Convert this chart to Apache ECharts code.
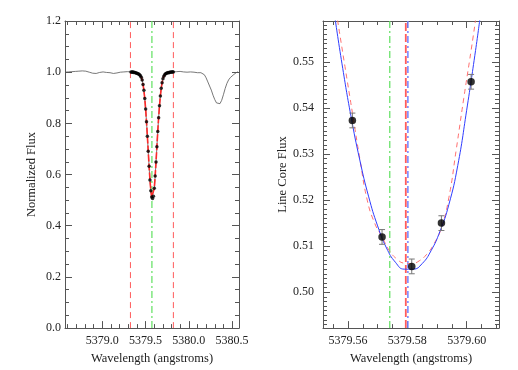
<!DOCTYPE html>
<html><head><meta charset="utf-8">
<script src="https://cdn.jsdelivr.net/npm/echarts@6/dist/echarts.min.js"></script>
<style>html,body{margin:0;padding:0;background:#fff}#c{width:518px;height:370px}</style>
</head><body><div id="c"></div>
<script>
// ---------- Left panel: spectrum ----------
const contLeftW = [5378.57,5378.59,5378.61,5378.63,5378.65,5378.67,5378.69,5378.71,5378.73,5378.75,5378.77,5378.79,5378.81,5378.83,5378.85,5378.87,5378.89,5378.91,5378.93,5378.95,5378.97,5378.99,5379.01,5379.03,5379.05,5379.07,5379.09,5379.11,5379.13,5379.15,5379.17,5379.19,5379.21,5379.23,5379.25,5379.27,5379.29,5379.31];
const contLeftF = [1.000,1.002,1.001,1.003,1.002,1.004,1.003,1.005,1.004,1.006,1.005,1.006,1.004,1.002,1.000,0.998,0.996,0.997,0.995,0.997,0.999,1.000,1.001,1.000,0.999,1.001,0.998,0.996,0.995,0.994,0.997,0.999,1.000,0.999,1.001,1.000,1.002,1.001];
const coreW = [5379.3315,5379.3415,5379.3515,5379.3615,5379.3715,5379.3815,5379.3915,5379.4015,5379.4115,5379.4215,5379.4315,5379.4415,5379.4515,5379.4615,5379.4715,5379.4815,5379.4915,5379.5015,5379.5115,5379.5215,5379.5315,5379.5415,5379.5515,5379.5615,5379.5715,5379.5815,5379.5915,5379.6015,5379.6115,5379.6215,5379.6315,5379.6415,5379.6515,5379.6615,5379.6715,5379.6815,5379.6915,5379.7015,5379.7115,5379.7215,5379.7315,5379.7415,5379.7515,5379.7615,5379.7715,5379.7815,5379.7915,5379.8015,5379.8115,5379.8215];
const coreF = [1.001,1.000,1.002,0.999,1.000,0.998,0.997,0.996,0.994,0.993,0.990,0.986,0.980,0.969,0.952,0.929,0.897,0.856,0.806,0.750,0.691,0.632,0.579,0.537,0.512,0.506,0.515,0.546,0.594,0.649,0.709,0.768,0.822,0.869,0.907,0.937,0.959,0.974,0.984,0.990,0.994,0.996,0.997,0.999,0.998,1.000,1.001,1.000,1.002,1.001];
const contRightW = [5379.84,5379.86,5379.88,5379.90,5379.92,5379.94,5379.96,5379.98,5380.00,5380.02,5380.04,5380.06,5380.08,5380.10,5380.12,5380.14,5380.16,5380.18,5380.20,5380.22,5380.24,5380.26,5380.28,5380.30,5380.32,5380.34,5380.36,5380.38,5380.40,5380.42,5380.44,5380.46,5380.48,5380.50,5380.52,5380.54,5380.56,5380.58];
const contRightF = [1.000,1.002,1.001,1.003,1.002,1.001,1.002,1.000,1.001,1.001,1.000,1.000,1.000,0.998,0.999,0.998,0.997,0.990,0.978,0.962,0.946,0.930,0.910,0.893,0.880,0.874,0.877,0.890,0.912,0.936,0.956,0.970,0.979,0.985,0.991,0.998,1.001,0.998];
const leftWindowLines = [5379.326, 5379.822];
const leftCenterLine = [5379.574];

// ---------- Right panel: line core ----------
const ptsW = [5379.5615,5379.5715,5379.5815,5379.5915,5379.6015];
const ptsF = [0.5373,0.5120,0.5056,0.5150,0.5457];
const ptsErr = [0.0016,0.0016,0.0016,0.0016,0.0016];
const blueW = [5379.5557,5379.5580,5379.5610,5379.5640,5379.5670,5379.5700,5379.5730,5379.5760,5379.5790,5379.5820,5379.5850,5379.5880,5379.5910,5379.5940,5379.5970,5379.6000,5379.6030,5379.6045];
const blueF = [0.5593,0.5496,0.5383,0.5287,0.5207,0.5144,0.5096,0.5065,0.5050,0.5050,0.5062,0.5090,0.5132,0.5190,0.5275,0.5395,0.5525,0.5595];
const redW = [5379.5565,5379.5590,5379.5615,5379.5640,5379.5665,5379.5690,5379.5715,5379.5740,5379.5765,5379.5790,5379.5815,5379.5840,5379.5865,5379.5890,5379.5915,5379.5940,5379.5965,5379.5990,5379.6015,5379.6030];
const redF = [0.5591,0.5490,0.5390,0.5290,0.5200,0.5150,0.5120,0.5090,0.5072,0.5063,0.5062,0.5068,0.5082,0.5105,0.5140,0.5205,0.5310,0.5420,0.5525,0.5591];
const greenLineR = [5379.5741];
const redLineR = [5379.5795];
const blueLineR = [5379.5802];

// ---------- Axes ----------
const leftXMin = 5378.57, leftXMax = 5380.58, leftYMin = 0, leftYMax = 1.2;
const rightXMin = 5379.5516, rightXMax = 5379.6109, rightYMin = 0.4922, rightYMax = 0.5589;
const leftXMajor = [5379.0, 5379.5, 5380.0, 5380.5];
const leftYMajor = [0.0, 0.2, 0.4, 0.6, 0.8, 1.0, 1.2];
const rightXMajor = [5379.56, 5379.58, 5379.60];
const rightYMajor = [0.50, 0.51, 0.52, 0.53, 0.54, 0.55];

function steps(a, b, s, dec) {
  const out = []; const n = Math.round((b - a) / s);
  for (let i = 0; i <= n; i++) out.push(+(a + i * s).toFixed(dec));
  return out;
}
function minorOf(all, major) { return all.filter(v => !major.some(m => Math.abs(m - v) < 1e-9)); }
const leftXMinor = minorOf(steps(5378.6, 5380.5, 0.1, 1), leftXMajor);
const leftYMinor = minorOf(steps(0.05, 1.15, 0.05, 2), leftYMajor);
const rightXMinor = minorOf(steps(5379.555, 5379.610, 0.005, 3), rightXMajor);
const rightYMinor = minorOf(steps(0.493, 0.558, 0.001, 3), rightYMajor);

const FONT = 'Liberation Serif';
const AX = '#555';
function axes(dim, g, min, max, major, minor, dec, name, nameGap, labelMargin) {
  const isX = dim === 'x';
  const p1 = isX ? 'bottom' : 'left', p2 = isX ? 'top' : 'right';
  const base = { type: 'value', gridIndex: g, min: min, max: max, splitLine: { show: false }, scale: true };
  const mk = (pos, vals, len, line, labels) => Object.assign({}, base, {
    position: pos,
    axisLine: { show: line, onZero: false, lineStyle: { color: AX, width: 1 } },
    axisTick: { show: true, inside: true, length: len, customValues: vals, lineStyle: { color: AX, width: 1 } },
    axisLabel: labels ? { show: true, customValues: major, formatter: v => (+v).toFixed(dec), fontFamily: FONT, fontSize: 12, color: '#222', margin: labelMargin } : { show: false },
    name: labels ? name : '',
    nameLocation: 'middle', nameGap: nameGap,
    nameTextStyle: { fontFamily: FONT, fontSize: 12.5, color: '#222' }
  });
  return [mk(p1, major, 7, true, true), mk(p1, minor, 4, false, false), mk(p2, major, 7, true, false), mk(p2, minor, 4, false, false)];
}

const xAxes = [].concat(
  axes('x', 0, leftXMin, leftXMax, leftXMajor, leftXMinor, 1, 'Wavelength (angstroms)', 19, 7),
  axes('x', 1, rightXMin, rightXMax, rightXMajor, rightXMinor, 2, 'Wavelength (angstroms)', 19, 7)
);
const yAxes = [].concat(
  axes('y', 0, leftYMin, leftYMax, leftYMajor, leftYMinor, 1, 'Normalized Flux', 27, 4),
  axes('y', 1, rightYMin, rightYMax, rightYMajor, rightYMinor, 2, 'Line Core Flux', 31, 9)
);

const zip = (a, b) => a.map((v, i) => [v, b[i]]);
function vline(x, y0, y1, g, color, type, width, z) {
  return { type: 'line', xAxisIndex: g * 4, yAxisIndex: g * 4, data: [[x, y0], [x, y1]], symbol: 'none', silent: true, z: z,
    lineStyle: { color: color, type: type, width: width }, animation: false };
}
const RED = '#ff5c5c', GREEN = '#5ee05e', BLUE = '#2f3cff', LBLUE = '#7282ff';
const DASH = [6, 4], DASHDOT = [7, 3, 2, 3];

const spectrum = zip(contLeftW, contLeftF).concat(zip(coreW, coreF), zip(contRightW, contRightF));

const series = [
  { type: 'line', xAxisIndex: 0, yAxisIndex: 0, data: spectrum, symbol: 'none', lineStyle: { color: '#555', width: 0.8 }, z: 2, animation: false },
  vline(leftWindowLines[0], leftYMin, leftYMax, 0, RED, DASH, 1, 3),
  vline(leftWindowLines[1], leftYMin, leftYMax, 0, RED, DASH, 1, 3),
  vline(leftCenterLine[0], leftYMin, leftYMax, 0, GREEN, DASHDOT, 1.2, 3),
  { type: 'line', xAxisIndex: 0, yAxisIndex: 0, data: zip(coreW, coreF), symbol: 'none', lineStyle: { color: '#ff2a2a', width: 1.6, type: [7, 2] }, z: 4, animation: false },
  { type: 'scatter', xAxisIndex: 0, yAxisIndex: 0, data: zip(coreW, coreF), symbol: 'circle', symbolSize: 3.5, itemStyle: { color: '#000' }, z: 5, animation: false },

  vline(greenLineR[0], rightYMin, rightYMax, 1, GREEN, DASHDOT, 1.2, 3),
  vline(redLineR[0], rightYMin, rightYMax, 1, RED, [8, 3], 1.8, 3),
  vline(blueLineR[0], rightYMin, rightYMax, 1, LBLUE, DASHDOT, 1.5, 4),
  { type: 'line', xAxisIndex: 4, yAxisIndex: 4, data: zip(redW, redF), smooth: true, symbol: 'none', lineStyle: { color: '#ff7070', width: 1, type: [5, 4] }, z: 4, animation: false },
  { type: 'line', xAxisIndex: 4, yAxisIndex: 4, data: zip(blueW, blueF), smooth: true, symbol: 'none', lineStyle: { color: BLUE, width: 1 }, z: 5, animation: false },
  { type: 'custom', xAxisIndex: 4, yAxisIndex: 4, coordinateSystem: 'cartesian2d', z: 6, animation: false,
    data: ptsW.map((w, i) => [w, ptsF[i] - ptsErr[i], ptsF[i] + ptsErr[i]]),
    encode: { x: 0, y: [1, 2] },
    renderItem: function (params, api) {
      const a = api.coord([api.value(0), api.value(1)]);
      const b = api.coord([api.value(0), api.value(2)]);
      const st = { stroke: '#777', lineWidth: 1 };
      return { type: 'group', children: [
        { type: 'line', shape: { x1: a[0], y1: a[1], x2: b[0], y2: b[1] }, style: st },
        { type: 'line', shape: { x1: a[0] - 3, y1: a[1], x2: a[0] + 3, y2: a[1] }, style: st },
        { type: 'line', shape: { x1: b[0] - 3, y1: b[1], x2: b[0] + 3, y2: b[1] }, style: st }
      ] };
    } },
  { type: 'scatter', xAxisIndex: 4, yAxisIndex: 4, data: zip(ptsW, ptsF), symbol: 'circle', symbolSize: 7.5, itemStyle: { color: '#000' }, z: 7, animation: false }
];

const chart = echarts.init(document.getElementById('c'), null, { renderer: 'canvas' });
chart.setOption({
  animation: false,
  backgroundColor: '#fff',
  grid: [
    { left: 65, top: 21, width: 174, height: 308 },
    { left: 323, top: 21, width: 176, height: 308 }
  ],
  xAxis: xAxes,
  yAxis: yAxes,
  series: series
});
</script></body></html>
